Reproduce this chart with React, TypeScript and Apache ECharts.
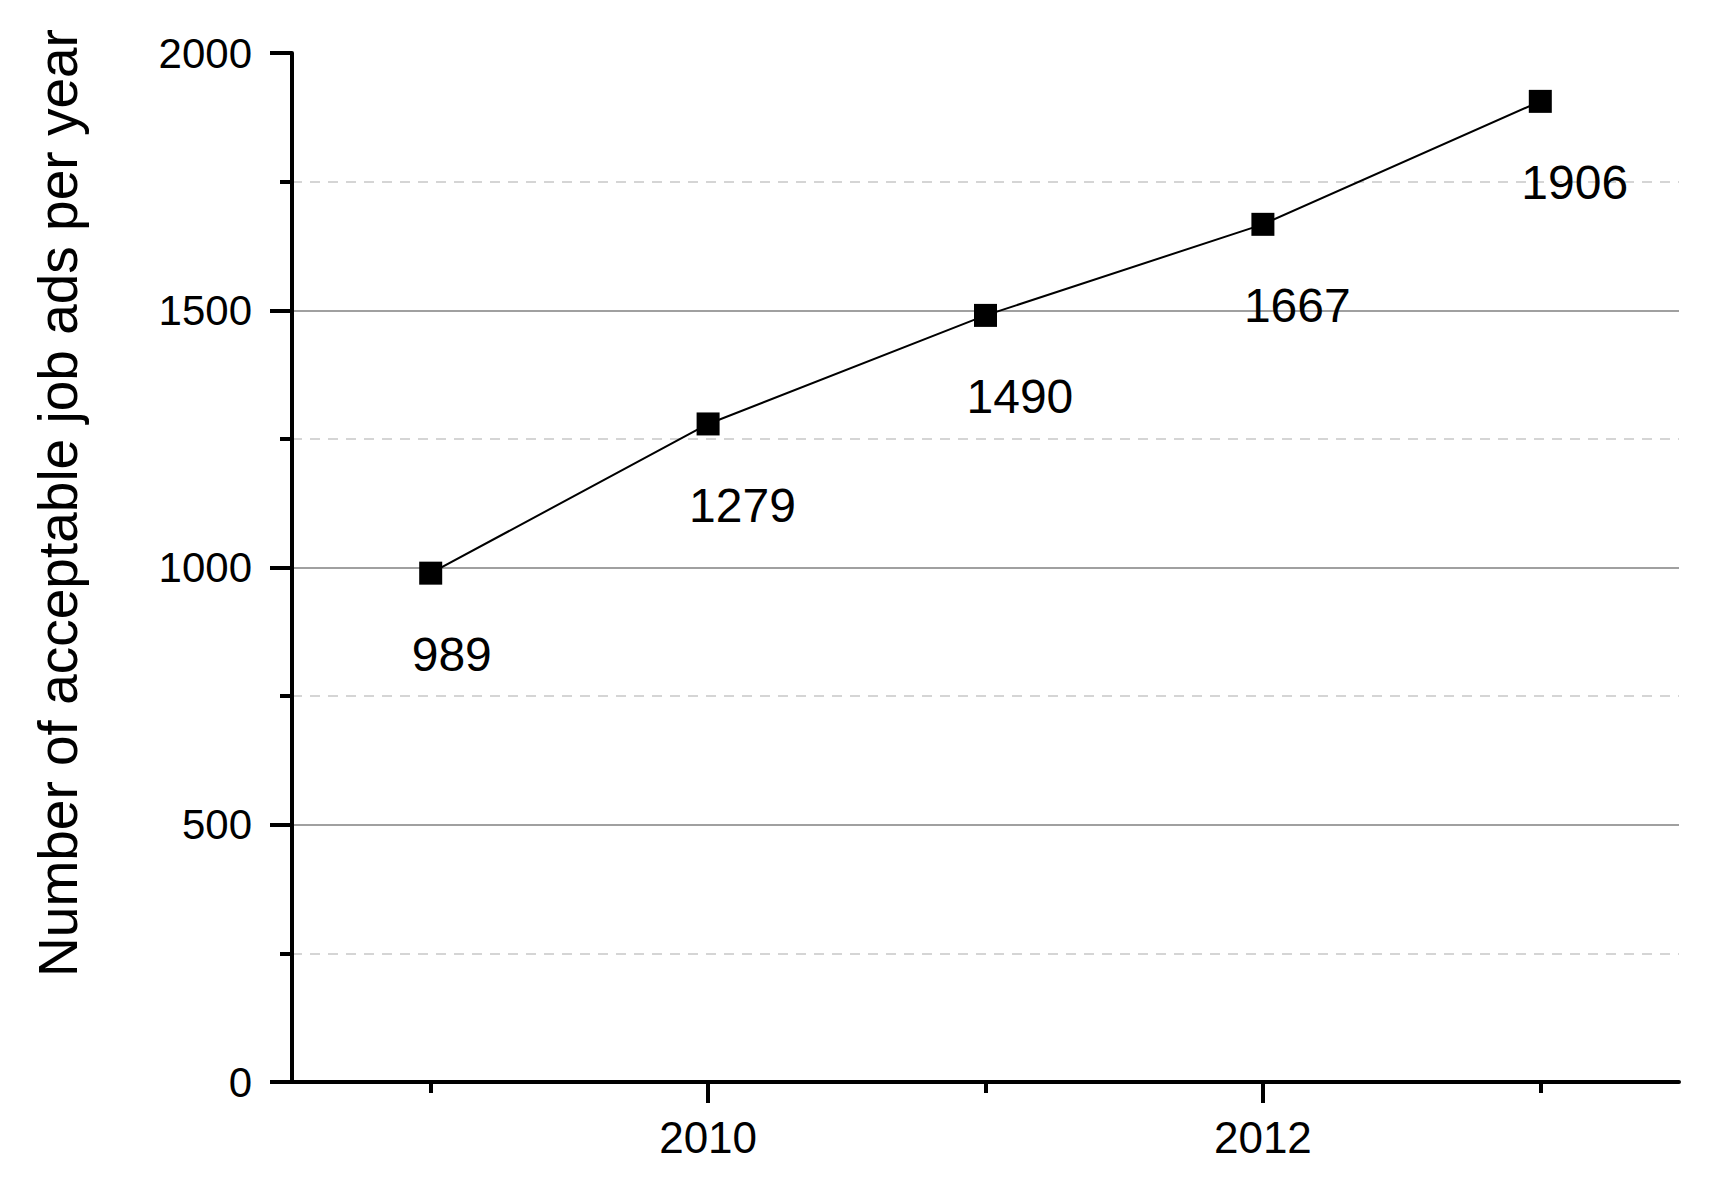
import React, { useEffect, useRef } from "react";
import * as echarts from "echarts";

const years = ["2009", "2010", "2011", "2012", "2013"];
const jobAds = [989, 1279, 1490, 1667, 1906];
const labeledYears = ["2010", "2012"];
const yTitle = "Number of acceptable job ads per year";

const FONT = "'Liberation Sans', Arial, Helvetica, sans-serif";

export default function App() {
  const ref = useRef<HTMLDivElement>(null);

  useEffect(() => {
    if (!ref.current) return;
    const chart = echarts.init(ref.current, null, { renderer: "svg" });
    const isLabeled = (i: number) => labeledYears.includes(years[i]);
    chart.setOption({
      animation: false,
      backgroundColor: "#ffffff",
      textStyle: { fontFamily: FONT },
      grid: { left: 292, right: 36, top: 53, bottom: 111, containLabel: false },
      xAxis: [
        {
          type: "category",
          data: years,
          position: "bottom",
          boundaryGap: true,
          axisLine: { show: true, lineStyle: { color: "#000", width: 4 } },
          axisTick: { show: true, alignWithLabel: true, length: 11, lineStyle: { color: "#000", width: 4 } },
          axisLabel: { show: false },
          splitLine: { show: false },
        },
        {
          type: "category",
          data: years,
          position: "bottom",
          boundaryGap: true,
          axisLine: { show: false },
          axisTick: {
            show: true,
            alignWithLabel: true,
            length: 21,
            interval: (i: number) => isLabeled(i),
            lineStyle: { color: "#000", width: 4 },
          },
          axisLabel: {
            show: true,
            interval: (i: number) => isLabeled(i),
            margin: 33,
            fontSize: 44,
            color: "#000",
            fontFamily: FONT,
          },
          splitLine: { show: false },
        },
      ],
      yAxis: {
        type: "value",
        min: 0,
        max: 2000,
        interval: 500,
        axisLine: { show: true, lineStyle: { color: "#000", width: 4 } },
        axisTick: { show: true, length: 22, lineStyle: { color: "#000", width: 4 } },
        minorTick: { show: true, splitNumber: 2, length: 12, lineStyle: { color: "#000", width: 4 } },
        axisLabel: {
          show: true,
          margin: 40,
          fontSize: 42,
          color: "#000",
          fontFamily: FONT,
          formatter: (v: number) => String(v),
        },
        splitLine: {
          show: true,
          showMinLine: false,
          showMaxLine: false,
          lineStyle: { color: "#808080", width: 1.5 },
        },
        minorSplitLine: {
          show: true,
          lineStyle: { color: "#c8c8c8", width: 1.5, type: [10, 8] },
        },
      },
      graphic: [
        {
          type: "text",
          x: 58,
          y: 503,
          rotation: Math.PI / 2,
          style: {
            text: yTitle,
            fontSize: 55,
            fontFamily: FONT,
            fill: "#000",
            align: "center",
            verticalAlign: "middle",
          },
        },
      ],
      series: [
        {
          type: "line",
          xAxisIndex: 0,
          data: jobAds,
          symbol: "rect",
          symbolSize: 23,
          itemStyle: { color: "#000" },
          lineStyle: { color: "#000", width: 2 },
          label: {
            show: true,
            position: [-7.5, 93],
            align: "left",
            verticalAlign: "middle",
            fontSize: 48,
            color: "#000",
            fontFamily: FONT,
          },
          z: 5,
        },
      ],
    });
    return () => chart.dispose();
  }, []);

  return (
    <div
      ref={ref}
      style={{ position: "absolute", left: 0, top: 0, width: 1715, height: 1193, background: "#fff" }}
    />
  );
}
